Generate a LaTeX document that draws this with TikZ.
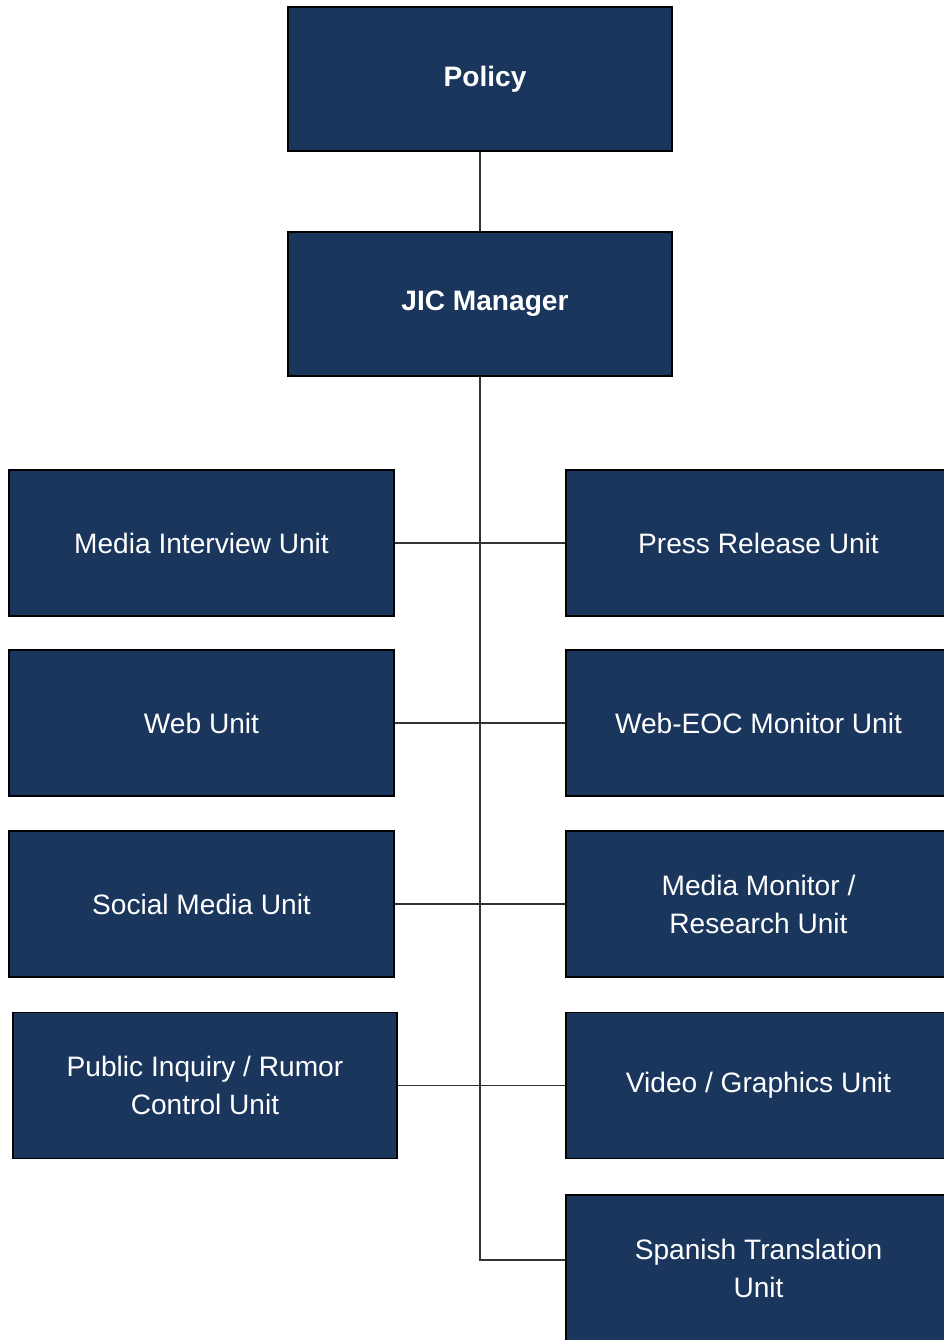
\documentclass[tikz,border=0pt]{standalone}
\usepackage{fontspec}
\setmainfont{Liberation Sans}
\definecolor{jicblue}{RGB}{26,54,93}
\begin{document}
\begin{tikzpicture}[x=0.02cm,y=-0.02cm,
  unit/.style={draw=black,line width=1.1pt,fill=jicblue,text=white,align=center,
    minimum width=7.7cm,minimum height=2.92cm,inner sep=0pt,
    font=\fontsize{16}{21.6}\selectfont},
  head/.style={unit,minimum width=7.68cm,minimum height=2.88cm,font=\fontsize{16}{21.6}\selectfont\bfseries},
  link/.style={line width=0.75pt,draw=black!80}]
\useasboundingbox (0,0) rectangle (944,1340);
% top of the chart
\node[head] (policy) at (480,79) {\hspace*{0.2cm}\raisebox{-0.06cm}{Policy}};
\node[head] (jic) at (480,304) {\hspace*{0.2cm}\raisebox{-0.06cm}{JIC Manager}};
% left column
\node[unit] (interview) at (201.5,543) {Media Interview Unit};
\node[unit] (web) at (201.5,723) {Web Unit};
\node[unit] (social) at (201.5,904) {Social Media Unit};
\node[unit] (inquiry) at (205,1085.5) {Public Inquiry / Rumor\\Control Unit};
% right column
\node[unit] (press) at (758.5,543) {Press Release Unit};
\node[unit] (webeoc) at (758.5,723) {Web-EOC Monitor Unit};
\node[unit] (monitor) at (758.5,904) {Media Monitor /\\Research Unit};
\node[unit] (video) at (758.5,1085.5) {Video / Graphics Unit};
\node[unit] (spanish) at (758.5,1268) {Spanish Translation\\Unit};
% connectors
\coordinate (turn) at (480,1260);
\draw[link] (policy) -- (jic);
\draw[link] (jic.south) -- (turn) -- (turn -| spanish.west);
\draw[link] (interview.east) -- (press.west);
\draw[link] (web.east) -- (webeoc.west);
\draw[link] (social.east) -- (monitor.west);
\draw[link] (inquiry.east) -- (video.west);
\end{tikzpicture}
\end{document}
